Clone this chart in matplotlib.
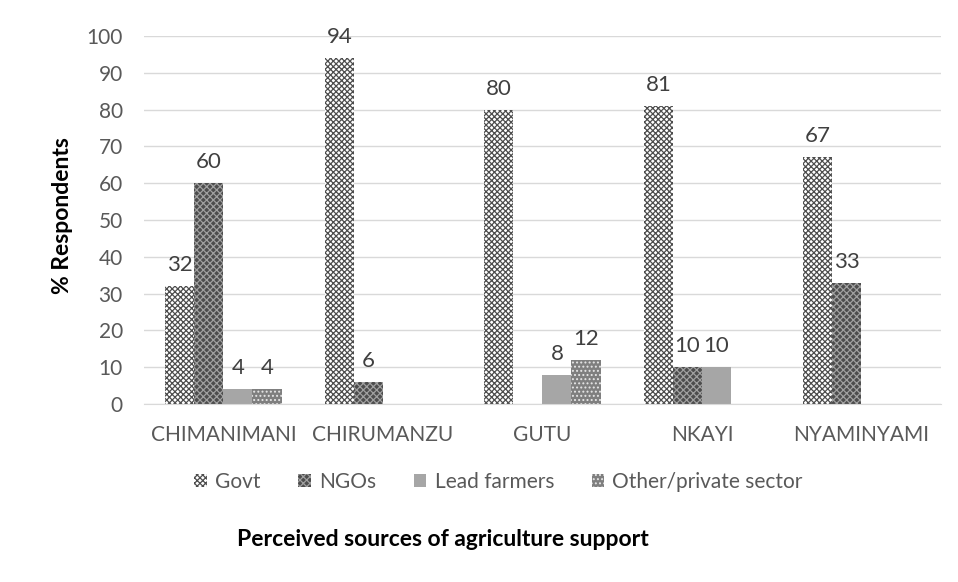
import matplotlib.pyplot as plt
import numpy as np

plt.rcParams['font.family'] = ['Lato', 'DejaVu Sans']
plt.rcParams['hatch.linewidth'] = 0.9

# Data
districts = ['CHIMANIMANI', 'CHIRUMANZU', 'GUTU', 'NKAYI', 'NYAMINYAMI']
govt = [32, 94, 80, 81, 67]
ngos = [60, 6, 0, 10, 33]
lead_farmers = [4, 0, 8, 10, 0]
other_private = [4, 0, 12, 0, 0]

series = [
    ('Govt', govt, dict(facecolor='white', edgecolor='#4d4d4d', hatch='xxxxxx')),
    ('NGOs', ngos, dict(facecolor='#4d4d4d', edgecolor='#a0a0a0', hatch='xxxxx')),
    ('Lead farmers', lead_farmers, dict(facecolor='#a6a6a6', edgecolor='#a6a6a6', hatch=None)),
    ('Other/private sector', other_private, dict(facecolor='#7f7f7f', edgecolor='#e6e6e6', hatch='....')),
]

fig = plt.figure(figsize=(9.58, 5.82), dpi=100)
ax = fig.add_axes([0.150, 0.3058, 0.8325, 0.6323])

ind = np.arange(len(districts))
width = 0.182
for i, (name, vals, style) in enumerate(series):
    pos = ind + (i - 1.5) * width
    bars = ax.bar(pos, vals, width, label=name, linewidth=0, **style)
    for b, v in zip(bars, vals):
        if v > 0:
            ax.text(b.get_x() + b.get_width() / 2, v + 3, str(v),
                    ha='center', va='bottom', fontsize=16, color='#404040')

ax.set_xlim(-0.5, 4.5)
ax.set_ylim(0, 100)
ax.set_yticks(np.arange(0, 101, 10))
ax.set_xticks(ind)
ax.set_xticklabels(districts)
ax.tick_params(axis='both', length=0, labelsize=15, colors='#595959', pad=15)
ax.grid(axis='y', color='#d9d9d9', linewidth=1)
ax.set_axisbelow(True)
for s in ['top', 'right', 'left']:
    ax.spines[s].set_visible(False)
ax.spines['bottom'].set_color('#d9d9d9')

ax.legend(loc='center', bbox_to_anchor=(0.445, -0.212), ncol=4, frameon=False,
          fontsize=15, handlelength=0.6, handleheight=0.6, columnspacing=1.8,
          handletextpad=0.4, labelcolor='#595959')

fig.text(0.065, 0.629, '% Respondents', rotation=90, ha='center', va='center',
         fontsize=16.5, fontweight='bold')
fig.text(0.4624, 0.0722, 'Perceived sources of agriculture support',
         ha='center', va='center', fontsize=16.5, fontweight='bold')

fig.savefig('out.png', dpi=100)
